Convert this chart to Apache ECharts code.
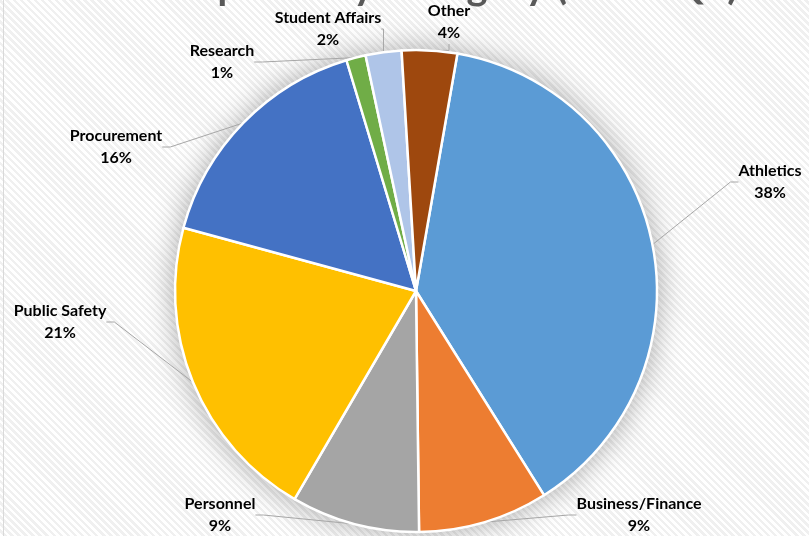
<!DOCTYPE html>
<html>
<head>
<meta charset="utf-8">
<script src="https://cdn.jsdelivr.net/npm/echarts@6/dist/echarts.min.js"></script>
<style>
  html, body { margin: 0; padding: 0; }
  body {
    width: 809px; height: 536px; overflow: hidden; position: relative;
    background: repeating-linear-gradient(45deg, #ffffff 0px, #ffffff 2.5px, #f0f0f0 2.5px, #f0f0f0 5px);
  }
  #edge { position: absolute; left: 3px; top: 0; width: 1px; height: 536px; background: #d9d9d9; }
  #chart { position: absolute; left: 0; top: 0; width: 809px; height: 536px; }
</style>
</head>
<body>
<div id="edge"></div>
<div id="chart"></div>
<script>
const titleText = 'PRA Requests by Category (FY18 Q3)';
const categories = ['Athletics', 'Business/Finance', 'Personnel', 'Public Safety', 'Procurement', 'Research', 'Student Affairs', 'Other'];
const shares = [38.3, 8.7, 8.6, 20.8, 16.1, 1.3, 2.4, 3.7];
const colors = ['#5B9BD5', '#ED7D31', '#A5A5A5', '#FFC000', '#4472C4', '#70AD47', '#AFC5E8', '#9E480E'];

// label placement (style): text block centre per category
const labelSpots = {
  'Athletics': [770, 182],
  'Business/Finance': [639, 515],
  'Personnel': [220, 515],
  'Public Safety': [60, 322],
  'Procurement': [116, 147],
  'Research': [222, 62],
  'Student Affairs': [328, 29],
  'Other': [449, 22]
};

const chart = echarts.init(document.getElementById('chart'), null, { renderer: 'canvas' });
const center = [416, 291];
const radius = 241;

chart.setOption({
  backgroundColor: 'transparent',
  animation: false,
  title: {
    text: titleText,
    left: 'center',
    top: -39,
    textStyle: { fontFamily: 'Lato', fontWeight: 'bold', fontSize: 40, color: '#595959' }
  },
  series: [
    {
      type: 'pie',
      silent: true,
      center: center,
      radius: radius,
      z: 1,
      label: { show: false },
      labelLine: { show: false },
      itemStyle: { color: '#ffffff', shadowBlur: 30, shadowColor: 'rgba(0,0,0,0.35)' },
      data: [1]
    },
    {
      type: 'pie',
      center: center,
      radius: radius,
      z: 2,
      startAngle: 80.1,
      clockwise: true,
      avoidLabelOverlap: false,
      itemStyle: { borderColor: '#ffffff', borderWidth: 2.5 },
      label: {
        show: true,
        position: 'outside',
        fontFamily: 'Lato',
        fontWeight: 'bold',
        fontSize: 16,
        lineHeight: 22,
        color: '#000000',
        formatter: p => p.name + '\n' + Math.round(p.percent) + '%'
      },
      labelLine: { show: true, length: 10, length2: 8, smooth: false, lineStyle: { color: '#a6a6a6', width: 1 } },
      labelLayout: function (params) {
        const name = categories[params.dataIndex];
        const s = labelSpots[name];
        return { x: s[0], y: s[1], align: 'center', verticalAlign: 'middle' };
      },
      data: categories.map((c, i) => ({ name: c, value: shares[i], itemStyle: { color: colors[i] } }))
    }
  ]
});
</script>
</body>
</html>
